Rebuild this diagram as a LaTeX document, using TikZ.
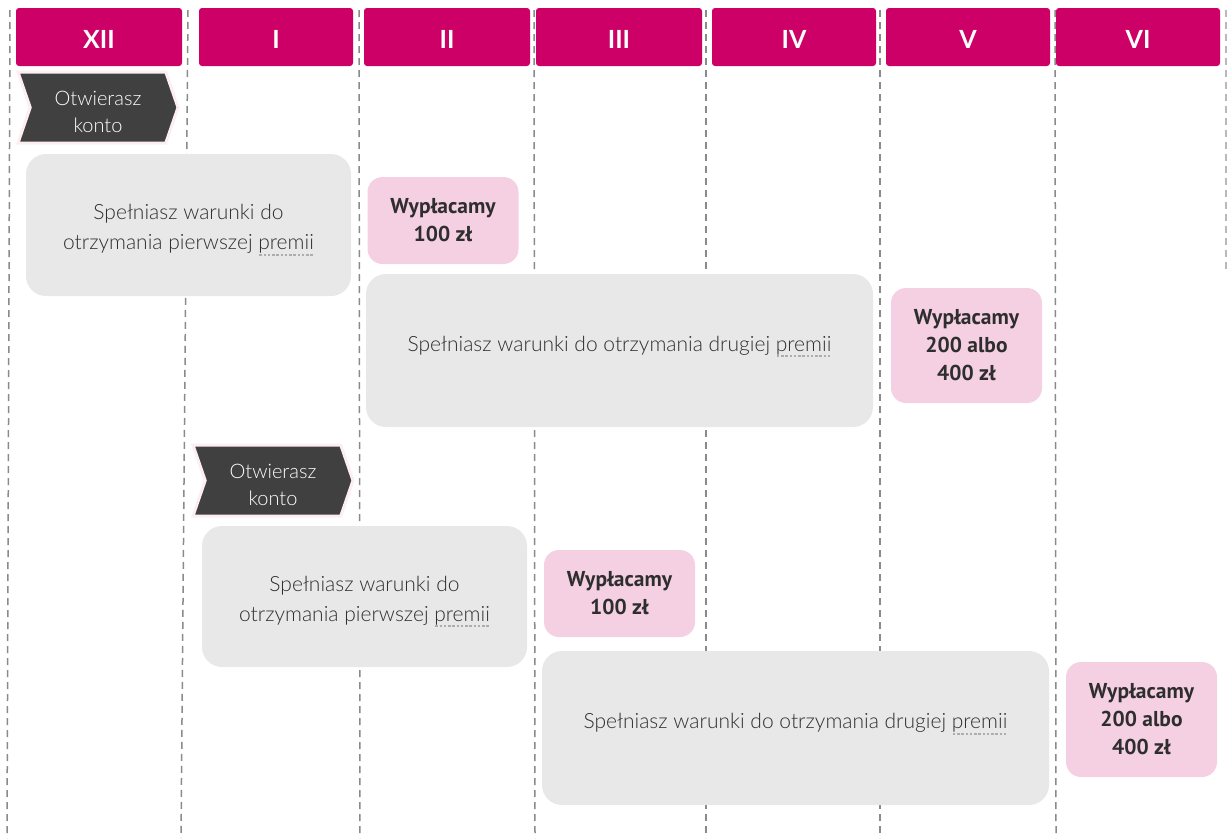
\documentclass[tikz,border=0pt]{standalone}
\usepackage{fontspec}
\setmainfont{Lato}
\newfontfamily\thinsans{Lato Light}
\newfontfamily\paysans{PT Sans}
\usetikzlibrary{shapes.symbols}

\definecolor{headmag}{HTML}{CC0066}
\definecolor{boxgrey}{HTML}{E8E8E8}
\definecolor{paypink}{HTML}{F5D0E2}
\definecolor{chevdark}{HTML}{404040}
\definecolor{chevhalo}{HTML}{FCEEF1}
\definecolor{gridgrey}{HTML}{8A8A8A}
\definecolor{txtdark}{HTML}{2E2E2E}

% dotted underline under one word
\newcommand\dotword[1]{\setbox0=\hbox{#1}\rlap{\raisebox{-6pt}{\color{gridgrey!70}\hbox to \wd0{\xleaders\hbox to 4pt{\hss\vrule width 2.5pt height 1.8pt\hss}\hfill}}}#1}

\begin{document}
\begin{tikzpicture}[x=1pt, y=-1pt,
  month/.style={fill=headmag, rounded corners=3pt, minimum width=#1, minimum height=58pt,
    inner sep=0pt, text height=22pt, text=white, font=\fontsize{25}{28}\selectfont\bfseries},
  chev/.style={signal, signal from=west, signal to=east, signal pointer angle=142,
    fill=chevdark, draw=chevhalo, line width=3pt, minimum width=160pt, minimum height=71pt,
    inner sep=0pt, text height=49.5pt, text=white, align=center, font=\thinsans\fontsize{20}{27}\selectfont},
  cond/.style={fill=boxgrey, rounded corners=20pt, minimum width=#1, inner sep=0pt,
    text=txtdark, align=center, font=\thinsans\fontsize{21}{30}\selectfont},
  twoline/.style={text height=55pt},
  oneline/.style={text depth=14pt},
  pay/.style={fill=paypink, rounded corners=15pt, minimum width=151pt, inner sep=0pt,
    text=txtdark, align=center, font=\paysans\bfseries\fontsize{21.5}{28}\selectfont}]

\useasboundingbox (0,0) rectangle (1228,838);

% month grid
\foreach \xt/\xb in {10/7, 188/181, 359/360, 534/535, 706/706, 880/880, 1055/1056}
  \draw[gridgrey, line width=1.5pt, dash pattern=on 7pt off 5pt] (\xt,10) -- (\xb,838);
\draw[gridgrey!60, line width=1.5pt, dash pattern=on 7pt off 5pt] (1226,10) -- (1226,270);

% months
\node[month=166pt] (mXII) at (99,37) {XII};
\node[month=154pt] (mI) at (276,37) {I};
\node[month=166pt] (mII) at (447,37) {II};
\node[month=166pt] (mIII) at (619,37) {III};
\node[month=164pt] (mIV) at (794,37) {IV};
\node[month=164pt] (mV) at (968,37) {V};
\node[month=164pt] (mVI) at (1138,37) {VI};

% first account
\node[chev] (open1) at (98,107.5) {Otwierasz\\konto};
\node[cond=325pt, twoline, minimum height=142pt] (first1) at (188.5,225) {Spełniasz warunki do\\otrzymania pierwszej \dotword{premii}};
\node[pay, minimum height=87pt] (pay1) at (443,220.5) {Wypłacamy\\100 zł};
\node[cond=507pt, oneline, minimum height=153pt] (second1) at (619.5,350.5) {Spełniasz warunki do otrzymania drugiej \dotword{premii}};
\node[pay, minimum height=115pt] (pay2) at (966.5,345.5) {Wypłacamy\\200 albo\\400 zł};

% second account
\node[chev] (open2) at (273,480.5) {Otwierasz\\konto};
\node[cond=325pt, twoline, minimum height=141pt] (first2) at (364.5,596.5) {Spełniasz warunki do\\otrzymania pierwszej \dotword{premii}};
\node[pay, minimum height=87pt] (pay3) at (619.5,593.5) {Wypłacamy\\100 zł};
\node[cond=507pt, oneline, minimum height=154pt] (second2) at (795.5,728) {Spełniasz warunki do otrzymania drugiej \dotword{premii}};
\node[pay, minimum height=115pt] (pay4) at (1141.5,719.5) {Wypłacamy\\200 albo\\400 zł};

\end{tikzpicture}
\end{document}
